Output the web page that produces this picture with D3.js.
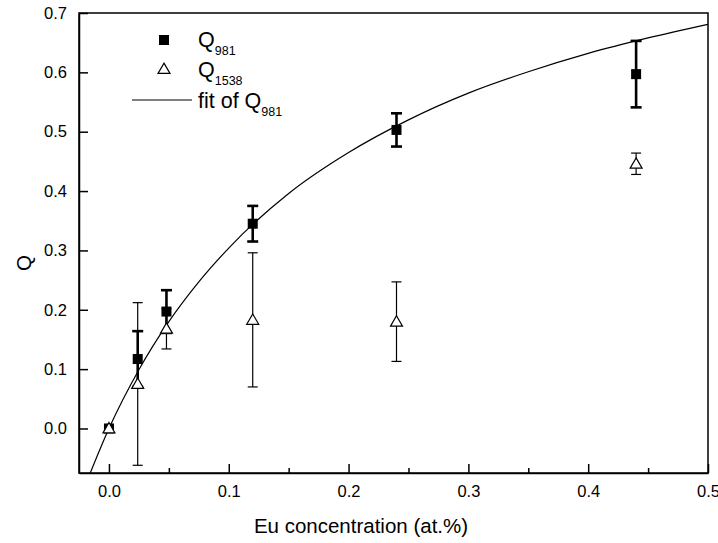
<!DOCTYPE html>
<html>
<head>
<meta charset="utf-8">
<script src="https://cdn.jsdelivr.net/npm/d3@7/dist/d3.min.js"></script>
<style>
  html, body { margin: 0; padding: 0; background: #fff; }
  svg { display: block; }
  text { font-family: Arial, "Liberation Sans", sans-serif; fill: #000; }
</style>
</head>
<body>
<svg id="chart" width="718" height="543"></svg>
<script>
// Eu concentration (at.%)
const concentration = [0, 0.024, 0.048, 0.12, 0.24, 0.44];

// Q at 981 nm, with error
const q981 = [0, 0.117, 0.197, 0.345, 0.503, 0.597];
const q981Err = [0, 0.047, 0.036, 0.030, 0.028, 0.056];

// Q at 1538 nm, with error
const q1538 = [0, 0.075, 0.168, 0.183, 0.180, 0.446];
const q1538Err = [0, 0.137, 0.034, 0.113, 0.067, 0.018];

// fitted curve of Q981, sampled
const fitX = [-0.02, 0, 0.025, 0.05, 0.075, 0.1, 0.15, 0.2, 0.25, 0.3, 0.35, 0.4, 0.45, 0.5];
const fitQ = [-0.097, 0, 0.099, 0.180, 0.247, 0.304, 0.396, 0.465, 0.520, 0.565, 0.601, 0.632, 0.658, 0.681];

const xTicks = [0, 0.1, 0.2, 0.3, 0.4, 0.5];
const xMinorTicks = [0.05, 0.15, 0.25, 0.35, 0.45];
const yTicks = [0, 0.1, 0.2, 0.3, 0.4, 0.5, 0.6, 0.7];

const svg = d3.select("#chart");
const plotLeft = 79, plotRight = 708, plotTop = 13, plotBottom = 473;

const x = d3.scaleLinear().domain([-0.025, 0.5]).range([plotLeft, plotRight]);
const y = d3.scaleLinear().domain([-0.075, 0.7]).range([plotBottom, plotTop]);

svg.append("defs").append("clipPath").attr("id", "plot-clip")
  .append("rect").attr("x", plotLeft).attr("y", plotTop)
  .attr("width", plotRight - plotLeft).attr("height", plotBottom - plotTop);

// frame
svg.append("rect")
  .attr("x", plotLeft).attr("y", plotTop)
  .attr("width", plotRight - plotLeft).attr("height", plotBottom - plotTop)
  .attr("fill", "none").attr("stroke", "#000").attr("stroke-width", 1.5);

// x axis: inward ticks
const xAxis = svg.append("g").attr("transform", `translate(0,${plotBottom})`)
  .call(d3.axisBottom(x).tickValues(xTicks).tickFormat(d3.format(".1f"))
    .tickSizeInner(-9).tickSizeOuter(0).tickPadding(12));
xAxis.select(".domain").attr("stroke-width", 1.5);
xAxis.selectAll(".tick line").attr("stroke-width", 1.5);
xAxis.selectAll(".tick text").attr("font-size", 16.5)
  .style("font-family", "Arial, 'Liberation Sans', sans-serif");

const xMinor = svg.append("g").attr("transform", `translate(0,${plotBottom})`)
  .call(d3.axisBottom(x).tickValues(xMinorTicks).tickFormat("")
    .tickSizeInner(-5).tickSizeOuter(0));
xMinor.select(".domain").remove();
xMinor.selectAll(".tick line").attr("stroke-width", 1.5);

// y axis: inward ticks
const yAxis = svg.append("g").attr("transform", `translate(${plotLeft},0)`)
  .call(d3.axisLeft(y).tickValues(yTicks).tickFormat(d3.format(".1f"))
    .tickSizeInner(-9).tickSizeOuter(0).tickPadding(12));
yAxis.select(".domain").attr("stroke-width", 1.5);
yAxis.selectAll(".tick line").attr("stroke-width", 1.5);
yAxis.selectAll(".tick text").attr("font-size", 16.5)
  .style("font-family", "Arial, 'Liberation Sans', sans-serif");

// axis titles
svg.append("text")
  .attr("x", 361).attr("y", 533)
  .attr("text-anchor", "middle").attr("font-size", 20.5)
  .text("Eu concentration (at.%)");
svg.append("text")
  .attr("transform", "translate(31,263) rotate(-90)")
  .attr("text-anchor", "middle").attr("font-size", 20.5)
  .text("Q");

// fit curve
const plot = svg.append("g").attr("clip-path", "url(#plot-clip)");
const fitData = fitX.map((d, i) => [d, fitQ[i]]);
plot.append("path")
  .datum(fitData)
  .attr("d", d3.line().x(d => x(d[0])).y(d => y(d[1])).curve(d3.curveMonotoneX))
  .attr("fill", "none").attr("stroke", "#000").attr("stroke-width", 1.2);

// error bars helper
function errorBars(values, errs, width, cap) {
  const g = svg.append("g").attr("stroke", "#000").attr("stroke-width", width);
  concentration.forEach((c, i) => {
    if (!errs[i]) return;
    const cx = x(c), y0 = y(values[i] - errs[i]), y1 = y(values[i] + errs[i]);
    g.append("line").attr("x1", cx).attr("x2", cx).attr("y1", y0).attr("y2", y1);
    g.append("line").attr("x1", cx - cap).attr("x2", cx + cap).attr("y1", y0).attr("y2", y0);
    g.append("line").attr("x1", cx - cap).attr("x2", cx + cap).attr("y1", y1).attr("y2", y1);
  });
}

// Q981: filled squares with thick error bars
errorBars(q981, q981Err, 2.6, 5.5);
svg.append("g").selectAll("rect")
  .data(concentration)
  .join("rect")
  .attr("x", d => x(d) - 5).attr("y", (d, i) => y(q981[i]) - 5)
  .attr("width", 10).attr("height", 10)
  .attr("fill", "#000");

// Q1538: open triangles with thin error bars
errorBars(q1538, q1538Err, 1.2, 5);
const tri = d3.symbol().type(d3.symbolTriangle).size(62);
svg.append("g").selectAll("path")
  .data(concentration)
  .join("path")
  .attr("transform", (d, i) => `translate(${x(d)},${y(q1538[i]) + 1})`)
  .attr("d", tri)
  .attr("fill", "#fff").attr("stroke", "#000").attr("stroke-width", 1.2);

// legend
const legend = svg.append("g");
legend.append("rect").attr("x", 159).attr("y", 35).attr("width", 10).attr("height", 10).attr("fill", "#000");
legend.append("path").attr("transform", "translate(164,70)").attr("d", tri)
  .attr("fill", "#fff").attr("stroke", "#000").attr("stroke-width", 1.2);
legend.append("line").attr("x1", 132).attr("x2", 192).attr("y1", 100).attr("y2", 100)
  .attr("stroke", "#000").attr("stroke-width", 1.2);

function legendLabel(xPos, yPos, main, sub) {
  const t = legend.append("text").attr("x", xPos).attr("y", yPos).attr("font-size", 21.5);
  t.append("tspan").text(main);
  t.append("tspan").attr("font-size", 12.5).attr("dy", 8).text(sub);
}
legendLabel(198, 47, "Q", "981");
legendLabel(198, 77, "Q", "1538");
legendLabel(198, 108, "fit of Q", "981");
</script>
</body>
</html>
